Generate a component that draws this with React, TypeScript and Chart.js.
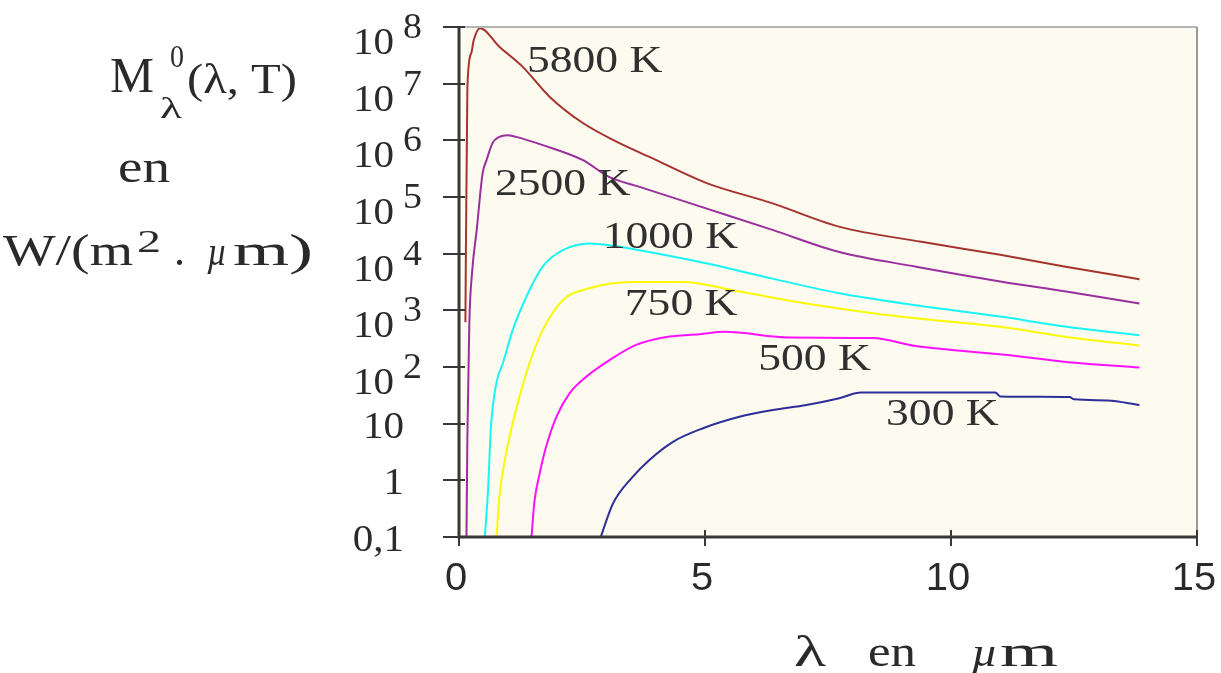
import React, { useEffect, useRef } from "react";
import { Chart, registerables } from "chart.js";

Chart.register(...registerables);

// ---- data (λ in µm, M in W/(m².µm)) ----
const temperatures = ["5800 K", "2500 K", "1000 K", "750 K", "500 K", "300 K"];

const lambda5800 = [0.13, 0.17, 0.25, 0.3, 0.43, 0.82, 1.29, 1.84, 2.51, 3.2, 3.87, 5.02, 6.36, 7.72, 9.4, 11.0, 12.33, 13.83];
const m5800 = [617, 8.3e6, 3.47e7, 5.9e7, 9.5e7, 4.47e7, 2.0e7, 5.9e6, 2.04e6, 9.5e5, 5.1e5, 1.78e5, 7.8e4, 3.0e4, 1.62e4, 9550, 5890, 3550];

const lambda2500 = [0.15, 0.17, 0.21, 0.27, 0.36, 0.48, 0.56, 0.68, 0.82, 0.98, 1.16, 1.69, 2.52, 3.06, 3.67, 5.02, 6.37, 7.73, 9.29, 11.0, 12.34, 13.83];
const m2500 = [0.063, 5.75, 603, 5130, 2.63e4, 2.63e5, 4.47e5, 8.9e5, 1.15e6, 1.23e6, 1.15e6, 8.3e5, 4.47e5, 2.24e5, 1.51e5, 6.3e4, 2.63e4, 1.07e4, 5890, 3240, 2140, 1320];

const lambda1000 = [0.52, 0.59, 0.65, 0.76, 0.89, 1.09, 1.37, 1.7, 2.11, 2.65, 3.06, 3.67, 5.02, 6.37, 7.73, 9.29, 11.0, 12.34, 13.83];
const m1000 = [0.089, 0.68, 8.9, 52.5, 115, 447, 1740, 5890, 1.15e4, 1.51e4, 1.41e4, 1.15e4, 6760, 3630, 2000, 1230, 776, 513, 363];

const lambda750 = [0.76, 0.82, 0.92, 1.06, 1.23, 1.43, 1.7, 2.11, 2.65, 3.53, 4.55, 5.7, 7.06, 8.41, 9.29, 11.0, 12.34, 13.83];
const m750 = [0.089, 0.51, 2.0, 7.8, 30, 115, 447, 1510, 2450, 3160, 3160, 2140, 1320, 891, 724, 513, 339, 240];

const lambda500 = [1.47, 1.53, 1.64, 1.77, 1.98, 2.25, 2.59, 3.06, 3.6, 4.21, 4.89, 5.4, 6.72, 8.41, 9.29, 11.05, 12.34, 13.83];
const m500 = [0.089, 0.4, 1.32, 3.9, 13.2, 34.7, 67.6, 132, 245, 339, 380, 417, 331, 324, 234, 166, 123, 98];

const lambda300 = [2.86, 3.13, 3.53, 3.87, 4.35, 4.96, 5.7, 6.38, 7.06, 7.73, 8.17, 10.9, 11.0, 12.41, 12.5, 13.18, 13.83];
const m300 = [0.089, 0.39, 1.15, 2.29, 4.79, 8.3, 13.2, 17.4, 21.4, 28.2, 35.5, 35.5, 30.2, 29.5, 26.9, 25.7, 21.4];

// curve labels, anchored in data coordinates (λ, M)
const labelLambda = [1.38, 0.73, 2.92, 3.37, 6.08, 8.68];
const labelM = [1.6e7, 1.08e5, 1.26e4, 826, 88.5, 9.5];

// ticks
const xTickValues = [0, 5, 10, 15];
const xTickLabels = ["0", "5", "10", "15"];
const yTickValues = [0.1, 1, 10, 1e2, 1e3, 1e4, 1e5, 1e6, 1e7, 1e8];
const yTickBase = ["0,1", "1", "10", "10", "10", "10", "10", "10", "10", "10"];
const yTickExp = ["", "", "", "2", "3", "4", "5", "6", "7", "8"];

const SERIF = '"Liberation Serif", "Times New Roman", serif';
const SANS = '"Liberation Sans", Arial, sans-serif';

function drawText(
  ctx: CanvasRenderingContext2D,
  text: string,
  x: number,
  y: number,
  font: string,
  opts: { width?: number; sx?: number; align?: CanvasTextAlign } = {}
) {
  ctx.save();
  ctx.font = font;
  const w = ctx.measureText(text).width;
  const sx = opts.width ? opts.width / w : opts.sx ?? 1;
  ctx.translate(x, y);
  ctx.scale(sx, 1);
  ctx.textAlign = opts.align ?? "left";
  ctx.textBaseline = "alphabetic";
  ctx.fillText(text, 0, 0);
  ctx.restore();
}

export default function App() {
  const ref = useRef<HTMLCanvasElement>(null);

  useEffect(() => {
    document.body.style.margin = "0";
    const canvas = ref.current;
    if (!canvas) return;

    const series = [
      { xs: lambda5800, ys: m5800, color: "#a5342f" },
      { xs: lambda2500, ys: m2500, color: "#9a2f9e" },
      { xs: lambda1000, ys: m1000, color: "#19f5f5" },
      { xs: lambda750, ys: m750, color: "#fafa05" },
      { xs: lambda500, ys: m500, color: "#ff10ff" },
      { xs: lambda300, ys: m300, color: "#2e2e98" },
    ];

    const decor = {
      id: "decor",
      beforeDatasetsDraw(chart: any) {
        const { ctx, chartArea: a } = chart;
        ctx.save();
        ctx.fillStyle = "#fdfaef";
        ctx.fillRect(a.left, a.top, a.right - a.left, a.bottom - a.top);
        ctx.restore();
      },
      afterDraw(chart: any) {
        const { ctx, chartArea: a } = chart;
        const xs = chart.scales.x;
        const ys = chart.scales.y;
        ctx.save();
        // frame (top & right, light grey)
        ctx.strokeStyle = "#b4b4b4";
        ctx.lineWidth = 2;
        ctx.beginPath();
        ctx.moveTo(a.left, a.top);
        ctx.lineTo(a.right, a.top);
        ctx.stroke();
        ctx.strokeStyle = "#9a9a9a";
        ctx.beginPath();
        ctx.moveTo(a.right, a.top);
        ctx.lineTo(a.right, a.bottom);
        ctx.stroke();
        // axes
        ctx.strokeStyle = "#383838";
        ctx.lineWidth = 3;
        ctx.beginPath();
        ctx.moveTo(a.left, a.top - 1);
        ctx.lineTo(a.left, a.bottom);
        ctx.lineTo(a.right + 1, a.bottom);
        ctx.stroke();
        // tick marks
        ctx.lineWidth = 2;
        ctx.beginPath();
        yTickValues.forEach((v) => {
          const py = Math.round(ys.getPixelForValue(v));
          ctx.moveTo(a.left - 16, py);
          ctx.lineTo(a.left + 6, py);
        });
        xTickValues.forEach((v) => {
          const px = Math.round(xs.getPixelForValue(v));
          ctx.moveTo(px, a.bottom - 7);
          ctx.lineTo(px, a.bottom + 9);
        });
        ctx.stroke();

        ctx.fillStyle = "#2a2a2a";
        // y tick labels
        yTickValues.forEach((v, i) => {
          const py = ys.getPixelForValue(v);
          if (yTickExp[i]) {
            drawText(ctx, yTickBase[i], a.left - 65, py + 27, `38px ${SERIF}`, { sx: 1.08, align: "right" });
            drawText(ctx, yTickExp[i], a.left - 56, py + 11, `36px ${SERIF}`, { sx: 1.05 });
          } else {
            drawText(ctx, yTickBase[i], a.left - 55, py + 14, `38px ${SERIF}`, { sx: 1.08, align: "right" });
          }
        });
        // x tick labels
        xTickValues.forEach((v, i) => {
          const px = xs.getPixelForValue(v);
          drawText(ctx, xTickLabels[i], px - 3, a.bottom + 53, `38px ${SANS}`, { sx: 1.05, align: "center" });
        });
        // curve labels
        ctx.fillStyle = "#303030";
        temperatures.forEach((t, i) => {
          const px = xs.getPixelForValue(labelLambda[i]);
          const py = ys.getPixelForValue(labelM[i]);
          drawText(ctx, t, px, py, `38px ${SERIF}`, { sx: 1.2 });
        });

        // y axis title
        ctx.fillStyle = "#2a2a2a";
        drawText(ctx, "M", 110, 92, `50px ${SERIF}`, { width: 44 });
        drawText(ctx, "0", 170, 67, `32px ${SERIF}`, { width: 14 });
        drawText(ctx, "λ", 160, 118, `30px ${SERIF}`, { width: 22 });
        drawText(ctx, "(λ, T)", 187, 93, `42px ${SERIF}`, { width: 110 });
        drawText(ctx, "en", 118, 182, `46px ${SERIF}`, { width: 52 });
        drawText(ctx, "W/(m", 3, 265, `44px ${SERIF}`, { width: 130 });
        drawText(ctx, "2", 137, 252, `32px ${SERIF}`, { width: 24 });
        drawText(ctx, ".", 174, 265, `44px ${SERIF}`);
        drawText(ctx, "µ", 207, 265, `italic 40px ${SERIF}`, { width: 20 });
        drawText(ctx, "m)", 233, 265, `44px ${SERIF}`, { width: 80 });

        // x axis title
        drawText(ctx, "λ", 794, 666, `44px ${SERIF}`, { width: 32 });
        drawText(ctx, "en", 868, 666, `44px ${SERIF}`, { width: 48 });
        drawText(ctx, "µ", 971, 666, `italic 42px ${SERIF}`, { width: 27 });
        drawText(ctx, "m", 1000, 666, `44px ${SERIF}`, { width: 58 });
        ctx.restore();
      },
    };

    const chart = new Chart(canvas, {
      type: "line",
      data: {
        datasets: series.map((s, i) => ({
          label: temperatures[i],
          data: s.xs.map((x, j) => ({ x, y: s.ys[j] })),
          borderColor: s.color,
          backgroundColor: s.color,
          borderWidth: 2,
          pointRadius: 0,
          fill: false,
          cubicInterpolationMode: "monotone" as const,
        })),
      },
      options: {
        responsive: false,
        animation: false,
        devicePixelRatio: 1,
        parsing: true,
        layout: { padding: { left: 459, right: 24, top: 27, bottom: 136 } },
        plugins: { legend: { display: false }, tooltip: { enabled: false } },
        scales: {
          x: { type: "linear", min: 0, max: 15, display: false },
          y: { type: "logarithmic", min: 0.1, max: 1e8, display: false },
        },
      },
      plugins: [decor],
    });
    return () => chart.destroy();
  }, []);

  return <canvas ref={ref} width={1221} height={673} style={{ display: "block" }} />;
}
